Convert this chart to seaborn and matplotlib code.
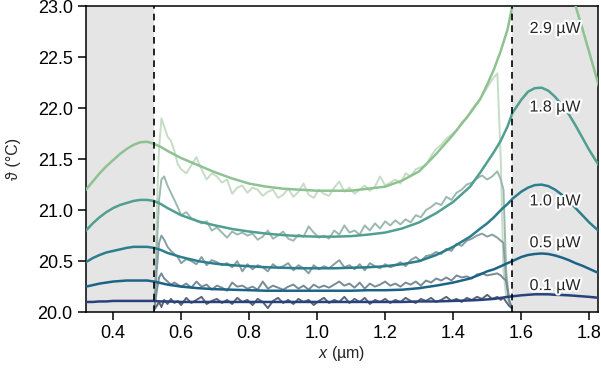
import matplotlib
matplotlib.use("Agg")
import matplotlib.pyplot as plt
import matplotlib.patheffects as pe
import numpy as np
import pandas as pd
import seaborn as sns

POWERS = ["2.9 µW", "1.8 µW", "1.0 µW", "0.5 µW", "0.1 µW"]

# model curves
SMOOTH_X = [0.32, 0.34, 0.36, 0.38, 0.40, 0.42, 0.44, 0.46, 0.48, 0.50, 0.52, 0.54, 0.56,
            0.60, 0.65, 0.70, 0.75, 0.80, 0.85, 0.90, 0.95, 1.00, 1.05, 1.10, 1.15, 1.20,
            1.25, 1.30, 1.35, 1.40, 1.45, 1.48, 1.50, 1.52, 1.54, 1.56, 1.574,
            1.60, 1.62, 1.64, 1.66, 1.68, 1.70, 1.72, 1.74, 1.76, 1.78, 1.80, 1.83]
SMOOTH_29 = [21.20, 21.28, 21.36, 21.43, 21.49, 21.55, 21.60, 21.64, 21.665, 21.67, 21.65, 21.62, 21.58,
             21.51, 21.44, 21.37, 21.31, 21.26, 21.23, 21.21, 21.20, 21.19, 21.19, 21.19, 21.21, 21.23,
             21.29, 21.38, 21.55, 21.74, 21.95, 22.09, 22.23, 22.38, 22.56, 22.77, 23.00,
             23.30, 23.45, 23.55, 23.60, 23.58, 23.50, 23.37, 23.20, 23.00, 22.78, 22.55, 22.20]
SMOOTH_18 = [20.80, 20.87, 20.93, 20.98, 21.02, 21.05, 21.07, 21.09, 21.10, 21.10, 21.09, 21.06, 21.02,
             20.95, 20.89, 20.85, 20.815, 20.79, 20.77, 20.755, 20.745, 20.74, 20.74, 20.745, 20.76, 20.78,
             20.82, 20.88, 20.97, 21.08, 21.23, 21.37, 21.47, 21.57, 21.68, 21.82, 21.95,
             22.08, 22.16, 22.195, 22.20, 22.17, 22.11, 22.03, 21.94, 21.83, 21.71, 21.59, 21.43]
SMOOTH_10 = [20.49, 20.53, 20.56, 20.585, 20.60, 20.615, 20.63, 20.64, 20.64, 20.64, 20.63, 20.61, 20.58,
             20.54, 20.50, 20.475, 20.46, 20.45, 20.44, 20.435, 20.43, 20.43, 20.43, 20.435, 20.44, 20.45,
             20.47, 20.50, 20.56, 20.64, 20.74, 20.82, 20.87, 20.93, 21.00, 21.06, 21.11,
             21.18, 21.22, 21.245, 21.25, 21.235, 21.20, 21.15, 21.09, 21.02, 20.95, 20.88, 20.79]
SMOOTH_05 = [20.25, 20.265, 20.28, 20.29, 20.30, 20.305, 20.31, 20.31, 20.31, 20.31, 20.30, 20.285, 20.27,
             20.25, 20.235, 20.225, 20.22, 20.215, 20.21, 20.21, 20.21, 20.21, 20.21, 20.21, 20.215, 20.215,
             20.22, 20.235, 20.26, 20.29, 20.33, 20.37, 20.40, 20.42, 20.45, 20.48, 20.50,
             20.54, 20.56, 20.57, 20.575, 20.57, 20.555, 20.535, 20.51, 20.48, 20.455, 20.425, 20.38]
SMOOTH_01 = [20.10, 20.10, 20.105, 20.105, 20.11, 20.11, 20.11, 20.11, 20.11, 20.11, 20.11, 20.105, 20.105,
             20.10, 20.10, 20.10, 20.10, 20.10, 20.10, 20.10, 20.10, 20.10, 20.10, 20.10, 20.10, 20.10,
             20.10, 20.105, 20.105, 20.11, 20.115, 20.12, 20.125, 20.13, 20.14, 20.15, 20.155,
             20.165, 20.17, 20.175, 20.175, 20.175, 20.17, 20.168, 20.165, 20.16, 20.155, 20.15, 20.14]

# measured profiles
NOISY_X = [0.522, 0.528, 0.535, 0.542, 0.55, 0.56, 0.57, 0.58, 0.59, 0.60,
           0.615, 0.63, 0.645, 0.66, 0.675, 0.69, 0.705, 0.72, 0.735, 0.75,
           0.765, 0.78, 0.795, 0.81, 0.825, 0.84, 0.855, 0.87, 0.885, 0.90,
           0.915, 0.93, 0.945, 0.96, 0.975, 0.99, 1.005, 1.02, 1.035, 1.05,
           1.065, 1.08, 1.095, 1.11, 1.125, 1.14, 1.155, 1.17, 1.185, 1.20,
           1.215, 1.23, 1.245, 1.26, 1.275, 1.29, 1.305, 1.32, 1.335, 1.35,
           1.365, 1.38, 1.395, 1.41, 1.425, 1.44, 1.455, 1.47, 1.485, 1.50,
           1.515, 1.53, 1.54, 1.548, 1.556, 1.565, 1.572]
NOISY_29 = [20.15, 21.00, 21.60, 21.90, 21.82, 21.72, 21.68, 21.58, 21.45, 21.40,
            21.36, 21.44, 21.52, 21.40, 21.30, 21.36, 21.33, 21.27, 21.30, 21.16,
            21.22, 21.24, 21.17, 21.22, 21.20, 21.14, 21.18, 21.20, 21.12, 21.15,
            21.21, 21.13, 21.18, 21.26, 21.15, 21.12, 21.20, 21.16, 21.14, 21.22,
            21.28, 21.18, 21.22, 21.16, 21.20, 21.24, 21.19, 21.23, 21.33, 21.24,
            21.27, 21.30, 21.26, 21.36, 21.33, 21.40, 21.42, 21.44, 21.53, 21.60,
            21.64, 21.70, 21.74, 21.78, 21.86, 21.90, 21.99, 22.05, 22.12, 22.20,
            22.28, 22.34, 21.50, 20.40, 20.15, 20.10, 20.05]
NOISY_18 = [20.12, 20.60, 21.10, 21.30, 21.33, 21.24, 21.17, 21.10, 21.03, 20.95,
            20.98, 20.92, 20.90, 20.87, 20.89, 20.80, 20.83, 20.78, 20.73, 20.79,
            20.76, 20.78, 20.75, 20.77, 20.71, 20.74, 20.80, 20.72, 20.75, 20.79,
            20.72, 20.70, 20.76, 20.74, 20.84, 20.78, 20.73, 20.75, 20.72, 20.80,
            20.76, 20.85, 20.78, 20.80, 20.76, 20.85, 20.80, 20.87, 20.82, 20.89,
            20.85, 20.90, 20.86, 20.91, 20.88, 20.95, 20.93, 21.00, 21.03, 21.07,
            21.05, 21.13, 21.10, 21.17, 21.20, 21.25, 21.27, 21.31, 21.34, 21.30,
            21.33, 21.38, 21.30, 21.20, 20.40, 20.10, 20.05]
NOISY_10 = [20.10, 20.40, 20.68, 20.75, 20.71, 20.64, 20.60, 20.57, 20.54, 20.48,
            20.52, 20.50, 20.47, 20.54, 20.46, 20.51, 20.49, 20.46, 20.48, 20.44,
            20.50, 20.40, 20.47, 20.42, 20.46, 20.44, 20.40, 20.47, 20.43, 20.45,
            20.48, 20.41, 20.46, 20.43, 20.38, 20.46, 20.42, 20.45, 20.43, 20.47,
            20.51, 20.44, 20.46, 20.42, 20.47, 20.41, 20.48, 20.45, 20.43, 20.47,
            20.44, 20.46, 20.49, 20.45, 20.51, 20.54, 20.50, 20.55, 20.56, 20.59,
            20.57, 20.62, 20.60, 20.67, 20.65, 20.70, 20.72, 20.75, 20.77, 20.74,
            20.76, 20.73, 20.70, 20.68, 20.30, 20.10, 20.05]
NOISY_05 = [20.05, 20.20, 20.34, 20.38, 20.33, 20.30, 20.27, 20.29, 20.27, 20.25,
            20.28, 20.24, 20.30, 20.25, 20.27, 20.22, 20.26, 20.24, 20.21, 20.29,
            20.25, 20.26, 20.23, 20.25, 20.22, 20.30, 20.23, 20.26, 20.24, 20.22,
            20.25, 20.27, 20.23, 20.26, 20.22, 20.27, 20.24, 20.26, 20.24, 20.27,
            20.30, 20.26, 20.28, 20.24, 20.29, 20.23, 20.28, 20.25, 20.27, 20.30,
            20.26, 20.28, 20.25, 20.29, 20.27, 20.30, 20.26, 20.31, 20.29, 20.33,
            20.31, 20.34, 20.31, 20.36, 20.34, 20.35, 20.33, 20.37, 20.38, 20.36,
            20.37, 20.38, 20.36, 20.33, 20.31, 20.12, 20.05]
NOISY_01 = [20.03, 20.06, 20.10, 20.05, 20.12, 20.08, 20.13, 20.09, 20.11, 20.07,
            20.14, 20.09, 20.12, 20.15, 20.08, 20.11, 20.13, 20.09, 20.12, 20.08,
            20.14, 20.10, 20.12, 20.07, 20.13, 20.10, 20.04, 20.11, 20.14, 20.09,
            20.12, 20.08, 20.13, 20.10, 20.12, 20.07, 20.11, 20.14, 20.09, 20.12,
            20.10, 20.15, 20.09, 20.13, 20.10, 20.14, 20.08, 20.12, 20.10, 20.13,
            20.09, 20.12, 20.10, 20.14, 20.11, 20.09, 20.13, 20.11, 20.14, 20.10,
            20.12, 20.15, 20.11, 20.13, 20.10, 20.14, 20.12, 20.15, 20.13, 20.17,
            20.13, 20.15, 20.12, 20.14, 20.10, 20.06, 20.04]

LABEL_X = 1.70
LABEL_Y = [22.78, 22.01, 21.09, 20.68, 20.26]

ELECTRODE_EDGES = [0.52, 1.574]
XLIM = (0.32, 1.826)
YLIM = (20.0, 23.0)

CREST_POS = [0.08, 0.33, 0.55, 0.72, 0.9]
NOISY_COLORS = ["#c6dcc6", "#9db8b0", "#879ea2", "#778b96", "#5b6478"]


def long_frame(x, series):
    rows = []
    for name, ys in zip(POWERS, series):
        rows.append(pd.DataFrame({"x": x, "T": ys, "power": name}))
    return pd.concat(rows, ignore_index=True)


def main():
    sns.set_style("ticks")
    plt.rcParams["font.family"] = ["Liberation Sans", "DejaVu Sans"]
    plt.rcParams["mathtext.fontset"] = "custom"
    plt.rcParams["mathtext.it"] = "Liberation Sans:italic"
    plt.rcParams["mathtext.rm"] = "Liberation Sans"

    smooth = long_frame(SMOOTH_X, [SMOOTH_29, SMOOTH_18, SMOOTH_10, SMOOTH_05, SMOOTH_01])
    noisy = long_frame(NOISY_X, [NOISY_29, NOISY_18, NOISY_10, NOISY_05, NOISY_01])
    crest = sns.color_palette("crest", as_cmap=True)
    line_colors = [crest(p) for p in CREST_POS]

    fig = plt.figure(figsize=(6.01, 3.77), dpi=100)
    ax = fig.add_axes([0.143, 0.172, 0.852, 0.812])

    ax.axvspan(XLIM[0], ELECTRODE_EDGES[0], color="#e5e5e5", lw=0, zorder=0)
    ax.axvspan(ELECTRODE_EDGES[1], XLIM[1], color="#e5e5e5", lw=0, zorder=0)

    sns.lineplot(data=noisy, x="x", y="T", hue="power", hue_order=POWERS,
                 palette=NOISY_COLORS, estimator=None, sort=False, lw=1.4,
                 legend=False, ax=ax, zorder=2)
    sns.lineplot(data=smooth, x="x", y="T", hue="power", hue_order=POWERS,
                 palette=line_colors, estimator=None, sort=False, lw=1.8,
                 legend=False, ax=ax, zorder=3)

    for x0 in ELECTRODE_EDGES:
        ax.axvline(x0, color="black", ls=(0, (4, 3)), lw=1.2, zorder=4)

    for name, y in zip(POWERS, LABEL_Y):
        ax.text(LABEL_X, y, name, ha="center", va="center", fontsize=11.5, zorder=5,
                path_effects=[pe.withStroke(linewidth=3, foreground="white")])

    ax.set_xlim(*XLIM)
    ax.set_ylim(*YLIM)
    ax.set_xticks([0.4, 0.6, 0.8, 1.0, 1.2, 1.4, 1.6, 1.8])
    ax.set_yticks([20.0, 20.5, 21.0, 21.5, 22.0, 22.5, 23.0])
    ax.yaxis.set_major_formatter(matplotlib.ticker.FormatStrFormatter("%.1f"))
    ax.xaxis.set_major_formatter(matplotlib.ticker.FormatStrFormatter("%.1f"))
    ax.tick_params(labelsize=13, length=6, width=1.1, direction="out", colors="black")
    for s in ax.spines.values():
        s.set_linewidth(1.1)
        s.set_color("black")
        s.set_visible(True)
    ax.set_xlabel("$x$ (µm)", fontsize=11.5, labelpad=1)
    ax.set_ylabel("ϑ (°C)", fontsize=11.5, labelpad=12)

    fig.savefig("out.png", dpi=100)
    plt.close(fig)


if __name__ == "__main__":
    main()
